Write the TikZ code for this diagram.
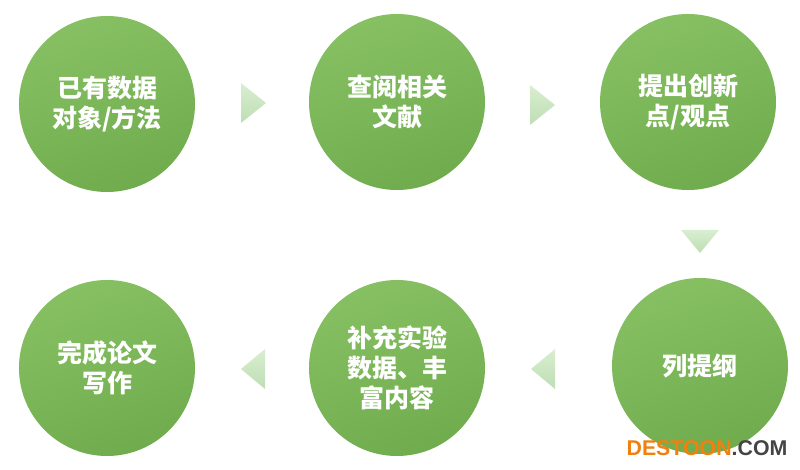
\documentclass[tikz,border=0pt]{standalone}
\usepackage{fontspec}
\setmainfont{Liberation Sans}
\newfontfamily\cjk{Noto Sans CJK SC}
\usetikzlibrary{calc,positioning}
\definecolor{leaftop}{RGB}{134,192,98}
\definecolor{leafbot}{RGB}{112,172,78}
\definecolor{paletop}{RGB}{216,238,208}
\definecolor{palebot}{RGB}{190,222,180}
\definecolor{markorange}{RGB}{240,128,16}
\definecolor{markgray}{RGB}{68,68,68}

\begin{document}
\begin{tikzpicture}[x=0.75pt,y=-0.75pt,
    stage/.style={circle, minimum size=132pt, inner sep=0pt,
      top color=leaftop, bottom color=leafbot, shading angle=20,
      text=white, align=center,
      font=\cjk\bfseries\fontsize{18.75}{22.5}\selectfont},
    pointer/.style={top color=paletop, bottom color=palebot}]
    \useasboundingbox (0,0) rectangle (800,470);

    % top row
    \node[stage] (s1) at (107,104) {已有数据\\对象/方法};
    \node[stage] (s2) at (397,102) {查阅相关\\文献};
    \node[stage] (s3) at (688,102) {提出创新\\点/观点};
    % bottom row
    \node[stage] (s6) at (700,366) {列提纲};
    \node[stage] (s5) at (397,368) {补充实验\\数据、丰\\富内容};
    \node[stage] (s4) at (107,368) {完成论文\\写作};

    % pointers between the steps
    \coordinate (p1) at (253,103);
    \coordinate (p2) at (542,105);
    \coordinate (p3) at (700,241);
    \coordinate (p4) at (543,369);
    \coordinate (p5) at (253,369);
    \shade[pointer] ($(p1)+(-12,-20)$) -- ($(p1)+(13,0)$) -- ($(p1)+(-12,20)$) -- cycle;
    \shade[pointer] ($(p2)+(-12,-20)$) -- ($(p2)+(13,0)$) -- ($(p2)+(-12,20)$) -- cycle;
    \shade[pointer] ($(p3)+(-19,-11)$) -- ($(p3)+(19,-11)$) -- ($(p3)+(0,12)$) -- cycle;
    \shade[pointer] ($(p4)+(12,-20)$) -- ($(p4)+(-12,0)$) -- ($(p4)+(12,20)$) -- cycle;
    \shade[pointer] ($(p5)+(12,-20)$) -- ($(p5)+(-12,0)$) -- ($(p5)+(12,20)$) -- cycle;

    \node[font=\bfseries\fontsize{16}{16}\selectfont, inner sep=0pt] (mark) at (707,448)
      {\textcolor{markorange}{DESTOON}\textcolor{markgray}{.COM}};
\end{tikzpicture}
\end{document}
